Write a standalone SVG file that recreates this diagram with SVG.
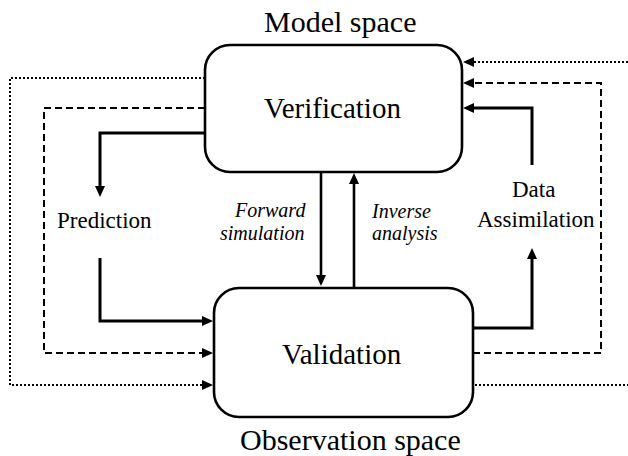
<svg xmlns="http://www.w3.org/2000/svg" width="628" height="456" viewBox="0 0 628 456">
<defs>
<marker id="ah" markerUnits="userSpaceOnUse" markerWidth="12" markerHeight="11" refX="3" refY="5" orient="auto">
<path d="M0,0 L11,5 L0,10 z" fill="#000"/>
</marker>
</defs>
<text x="264" y="32" style="font-family:'Liberation Serif';font-size:30px">Model space</text>
<text x="240" y="450" style="font-family:'Liberation Serif';font-size:30px">Observation space</text>
<g id="verification">
<rect x="205" y="45" width="257" height="127" rx="25" fill="#fff" stroke="#000" stroke-width="2.6"/>
<text x="264" y="118" style="font-family:'Liberation Serif';font-size:29px">Verification</text>
</g>
<g id="validation">
<rect x="214" y="288" width="259" height="129" rx="25" fill="#fff" stroke="#000" stroke-width="2.6"/>
<text x="282" y="364" style="font-family:'Liberation Serif';font-size:29px">Validation</text>
</g>
<g id="prediction">
<text x="57" y="228" style="font-family:'Liberation Serif';font-size:23px">Prediction</text>
</g>
<g id="data-assimilation">
<text x="512" y="197" style="font-family:'Liberation Serif';font-size:23px">Data</text>
<text x="477" y="227" style="font-family:'Liberation Serif';font-size:23px">Assimilation</text>
</g>
<g id="connectors">
<g fill="none" stroke="#000">
<g stroke-width="2" stroke-dasharray="2,2">
<path d="M205,78 H10 V385 H205" marker-end="url(#ah)"/>
<path d="M628,62 H471" marker-end="url(#ah)"/>
<path d="M475,385 H628"/>
</g>
<g stroke-width="2" stroke-dasharray="7,4">
<path d="M205,108 H44 V353 H205" marker-end="url(#ah)"/>
<path d="M473,353 H601 V83 H471" marker-end="url(#ah)"/>
</g>
<g stroke-width="3">
<path d="M205,133 H100 V189" marker-end="url(#ah)"/>
<path d="M100,258 V321 H205" marker-end="url(#ah)"/>
<path d="M473,328 H532 V256" marker-end="url(#ah)"/>
<path d="M532,165 V108 H471" marker-end="url(#ah)"/>
</g>
<g stroke-width="2.6">
<path d="M321,172 V278" marker-end="url(#ah)"/>
<path d="M354,288 V181" marker-end="url(#ah)"/>
</g>
</g>
<text x="235" y="217" style="font-family:'Liberation Serif';font-size:20px;font-style:italic">Forward</text>
<text x="220" y="240" style="font-family:'Liberation Serif';font-size:20px;font-style:italic">simulation</text>
<text x="372" y="218" style="font-family:'Liberation Serif';font-size:20px;font-style:italic">Inverse</text>
<text x="372" y="240" style="font-family:'Liberation Serif';font-size:20px;font-style:italic">analysis</text>
</g>
</svg>
